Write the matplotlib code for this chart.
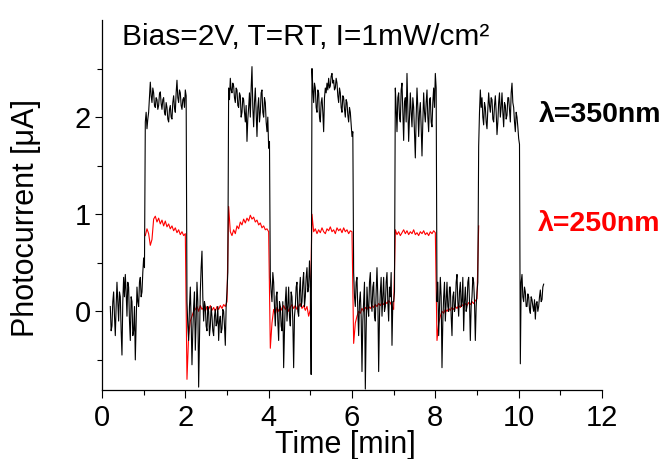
import matplotlib
matplotlib.use('Agg')
import matplotlib.pyplot as plt
import numpy as np

plt.rcParams.update({
    'font.family': ['Liberation Sans', 'DejaVu Sans'],
    'font.size': 21,
    'axes.linewidth': 0.9,
})

# sampling of the photocurrent recordings (min)
black_dt = 0.02
black_t0 = 0.2
red_dt = 0.04
red_t0 = 1.04

# lambda = 350 nm, photocurrent (uA), one value every black_dt from black_t0
black_y = [
    # dark 0.2-1.02
    0.05, -0.20, -0.15, 0.10, 0.20, -0.05, -0.25, 0.05, 0.30, 0.10, -0.10, 0.20,
    0.15, -0.20, -0.45, 0.10, 0.35, 0.15, 0.38, 0.20, -0.05, 0.30, 0.25, -0.10,
    -0.30, 0.15, 0.10, -0.25, -0.20, 0.05, -0.50, -0.10, 0.25, 0.10, 0.05, 0.30,
    0.35, 0.15, 0.20, 0.40, 0.55, 0.45,
    # light 1.04-2.02
    1.95, 2.05, 1.88, 1.98, 2.05, 2.20, 2.36, 2.22, 2.15, 2.30, 2.25, 2.12,
    2.10, 2.20, 2.18, 2.08, 2.12, 2.24, 2.26, 2.14, 2.08, 2.18, 2.20, 2.05,
    2.02, 2.15, 2.10, 1.98, 1.95, 2.08, 2.12, 2.00, 1.98, 2.15, 2.22, 2.10,
    2.05, 2.25, 2.38, 2.20, 2.15, 2.28, 2.25, 2.12, 2.08, 2.18, 2.20, 2.10,
    2.28, 2.22,
    # dark 2.04-3.02
    0.10, -0.15, -0.30, 0.05, 0.25, -0.10, -0.55, -0.20, 0.05, 0.20, -0.40, -0.10,
    0.30, 0.10, -0.78, -0.30, 0.20, 0.45, 0.62, 0.15, -0.10, 0.10, 0.05, -0.15,
    -0.20, 0.05, 0.00, -0.25, -0.15, 0.05, -0.05, -0.20, -0.25, -0.05, 0.02, -0.15,
    -0.12, 0.05, -0.30, -0.10, -0.05, -0.22, -0.18, 0.02, 0.00, -0.15, -0.35, 0.05,
    0.20, 0.40,
    # light 3.04-4.02
    2.30, 2.18, 2.40, 2.28, 2.25, 2.35, 2.32, 2.20, 2.15, 2.30, 2.28, 2.12,
    2.10, 2.25, 2.22, 2.00, 2.05, 2.20, 2.18, 2.05, 1.95, 2.12, 1.75, 1.98,
    2.10, 2.25, 2.00, 2.30, 2.52, 2.10, 1.90, 2.15, 2.30, 2.05, 1.80, 2.10,
    2.20, 1.95, 2.05, 2.25, 2.28, 2.05, 2.00, 2.20, 2.15, 1.95, 1.85, 2.00,
    1.68, 1.75,
    # dark 4.04-5.02
    0.35, 0.20, 0.10, 0.40, 0.30, 0.05, -0.15, 0.15, 0.20, -0.10, -0.30, 0.10,
    0.05, -0.15, -0.20, 0.10, -0.58, -0.20, 0.10, 0.25, -0.10, 0.05, 0.25, -0.05,
    -0.15, 0.20, 0.15, -0.10, -0.58, -0.05, 0.05, 0.25, 0.30, 0.00, -0.05, 0.20,
    0.35, 0.05, 0.10, 0.30, 0.40, 0.05, 0.15, 0.35, 0.45, 0.20, 0.25, 0.52,
    0.30, -0.65,
    # light 5.04-6.02
    2.50, 2.30, 2.15, 2.35, 2.30, 2.10, 2.05, 2.28, 2.25, 2.00, 1.95, 2.15,
    2.20, 2.05, 1.85, 2.20, 2.30, 2.25, 2.35, 2.28, 2.40, 2.30, 2.32, 2.42,
    2.45, 2.35, 2.38, 2.28, 2.30, 2.40, 2.35, 2.22, 2.15, 2.30, 2.25, 2.10,
    2.05, 2.22, 2.20, 2.08, 2.00, 2.18, 2.15, 2.02, 1.95, 2.10, 2.05, 1.92,
    1.80, 1.85,
    # dark 6.04-7.02
    0.40, 0.15, 0.05, 0.30, 0.35, 0.00, -0.25, 0.10, 0.20, -0.05, -0.62, -0.10,
    0.10, 0.30, -0.80, -0.20, 0.25, 0.05, -0.05, 0.30, 0.40, 0.10, 0.00, 0.25,
    0.30, -0.05, -0.10, 0.20, 0.45, 0.15, -0.62, -0.05, 0.20, 0.35, -0.05, 0.15,
    0.35, 0.00, 0.05, 0.30, 0.40, 0.10, -0.10, 0.25, 0.15, 0.40, -0.35, 0.10,
    0.10, 0.20,
    # light 7.04-8.02
    2.30, 2.10, 1.85, 2.20, 2.25, 2.00, 1.95, 2.28, 2.35, 2.05, 1.76, 2.15,
    2.20, 1.95, 2.45, 2.10, 1.75, 2.00, 2.25, 2.05, 1.90, 2.20, 2.10, 1.85,
    1.58, 2.00, 2.30, 2.10, 1.80, 2.05, 2.15, 1.90, 1.60, 1.95, 2.25, 2.05,
    1.95, 2.15, 2.28, 2.00, 1.85, 2.18, 2.20, 1.95, 1.90, 2.15, 2.30, 2.10,
    2.45, 2.30,
    # dark 8.04-9.02
    0.10, 0.30, -0.25, 0.05, 0.35, 0.15, -0.58, -0.10, 0.15, 0.30, -0.10, 0.10,
    0.30, 0.05, 0.00, 0.25, 0.25, -0.05, -0.25, 0.15, 0.20, 0.00, 0.05, 0.30,
    0.38, 0.10, -0.05, 0.20, 0.30, 0.05, 0.10, 0.35, -0.20, 0.10, 0.25, 0.00,
    0.05, 0.30, 0.35, 0.10, -0.30, 0.05, 0.15, 0.35, 0.30, 0.10, -0.30, 0.05,
    0.20, 0.30,
    # light 9.04-10.02
    1.70, 2.05, 2.28, 2.10, 2.20, 2.00, 1.92, 2.15, 2.10, 1.95, 1.88, 2.08,
    2.25, 2.12, 2.05, 2.20, 2.18, 1.98, 1.95, 2.12, 2.22, 2.05, 1.82, 1.95,
    2.15, 2.25, 2.00, 2.10, 2.25, 2.05, 1.90, 2.15, 2.12, 1.98, 2.02, 2.20,
    2.20, 2.08, 1.95, 2.25, 2.35, 2.15, 2.10, 1.95, 1.85, 2.05, 2.00, 1.90,
    1.78, 1.72,
    # dark 10.04-10.6
    -0.54, 0.30, 0.38, 0.15, 0.10, 0.25, 0.20, 0.05, 0.05, 0.18, 0.15, 0.02,
    -0.02, 0.15, 0.12, 0.05, 0.00, 0.12, -0.08, 0.08, 0.10, 0.00, 0.05, 0.15,
    0.22, 0.10, 0.12, 0.25, 0.28,
]

# lambda = 250 nm, photocurrent (uA), one value every red_dt from red_t0
red_y = [
    # light 1.04-2.0
    0.78, 0.85, 0.80, 0.68, 0.74, 0.95, 0.98, 0.92, 0.96, 0.90, 0.94, 0.88,
    0.93, 0.87, 0.90, 0.85, 0.88, 0.83, 0.86, 0.81, 0.84, 0.79, 0.82, 0.78, 0.80,
    # dark 2.04-3.0
    -0.70, -0.25, -0.10, -0.05, 0.00, 0.02, 0.05, 0.00, 0.06, 0.02, 0.04, 0.00,
    0.05, 0.02, 0.06, 0.01, 0.04, 0.00, 0.05, 0.02, 0.06, 0.03, 0.07, 0.05, 0.10,
    # light 3.04-4.0
    1.08, 0.82, 0.78, 0.84, 0.80, 0.88, 0.85, 0.92, 0.89, 0.95, 0.91, 0.96,
    0.93, 0.99, 0.95, 0.97, 0.92, 0.94, 0.89, 0.91, 0.86, 0.88, 0.84, 0.85, 0.82,
    # dark 4.04-5.0
    -0.38, -0.12, 0.02, -0.03, 0.04, 0.00, 0.05, 0.01, 0.06, 0.02, 0.05, 0.00,
    0.04, 0.07, 0.03, 0.06, 0.02, 0.05, 0.08, 0.03, 0.06, 0.01, 0.05, -0.05, 0.02,
    # light 5.04-6.0
    1.00, 0.82, 0.85, 0.80, 0.84, 0.81, 0.86, 0.82, 0.80, 0.85, 0.83, 0.87,
    0.82, 0.84, 0.80, 0.86, 0.83, 0.85, 0.81, 0.86, 0.82, 0.84, 0.80, 0.83, 0.82,
    # dark 6.04-7.0
    -0.33, -0.12, -0.05, 0.00, -0.02, 0.03, 0.00, 0.04, 0.02, 0.05, 0.03, 0.06,
    0.04, 0.07, 0.05, 0.08, 0.06, 0.09, 0.07, 0.10, 0.08, 0.11, 0.09, 0.05, 0.02,
    # light 7.04-8.0
    0.84, 0.79, 0.82, 0.78, 0.81, 0.84, 0.80, 0.83, 0.79, 0.82, 0.80, 0.84,
    0.79, 0.81, 0.78, 0.82, 0.80, 0.83, 0.79, 0.81, 0.78, 0.82, 0.80, 0.83, 0.81,
    # dark 8.04-9.0 and switch-on at 9.04
    -0.30, -0.12, -0.05, 0.00, -0.02, 0.02, 0.00, 0.03, 0.01, 0.04, 0.02, 0.05,
    0.03, 0.06, 0.04, 0.07, 0.05, 0.08, 0.06, 0.09, 0.07, 0.10, 0.08, 0.11, 0.13,
    0.88,
]

black_t = black_t0 + black_dt * np.arange(len(black_y))
red_t = red_t0 + red_dt * np.arange(len(red_y))

fig = plt.figure(figsize=(6.63, 4.59), dpi=100)
ax = fig.add_axes([0.1538, 0.1503, 0.7542, 0.8061])

ax.plot(red_t, red_y, color='#FF0000', linewidth=0.8, zorder=2)
ax.plot(black_t, black_y, color='black', linewidth=0.8, zorder=3)

ax.set_xlim(0, 12)
ax.set_ylim(-0.81, 3.0)
ax.set_xticks([0, 2, 4, 6, 8, 10, 12])
ax.set_xticks(np.arange(1, 12, 2), minor=True)
ax.set_yticks([0, 1, 2])
ax.set_yticks([-0.5, 0.5, 1.5, 2.5], minor=True)
ax.tick_params(which='major', direction='out', length=5.4, width=0.8, labelsize=21)
ax.tick_params(which='minor', direction='out', length=3.4, width=0.8)
ax.tick_params(axis='x', which='major', pad=4.5)
ax.tick_params(axis='y', which='major', pad=2.5)
for s in ['top', 'right']:
    ax.spines[s].set_visible(False)

ax.set_xlabel('Time [min]', fontsize=22)
ax.xaxis.set_label_coords(0.486, -0.108)
ax.set_ylabel('Photocurrent [\u03bcA]', fontsize=22)
ax.yaxis.set_label_coords(-0.122, 0.465)

ax.text(0.48, 2.74, 'Bias=2V, T=RT, I=1mW/cm\u00b2', fontsize=21.5, va='baseline', ha='left')
ax.text(10.48, 2.02, '\u03bb=350nm', fontsize=20.5, fontweight='bold', color='black',
        va='center', ha='left', clip_on=False)
ax.text(10.46, 0.90, '\u03bb=250nm', fontsize=20.5, fontweight='bold', color='#FF0000',
        va='center', ha='left', clip_on=False)

fig.savefig('out.png', dpi=100)
